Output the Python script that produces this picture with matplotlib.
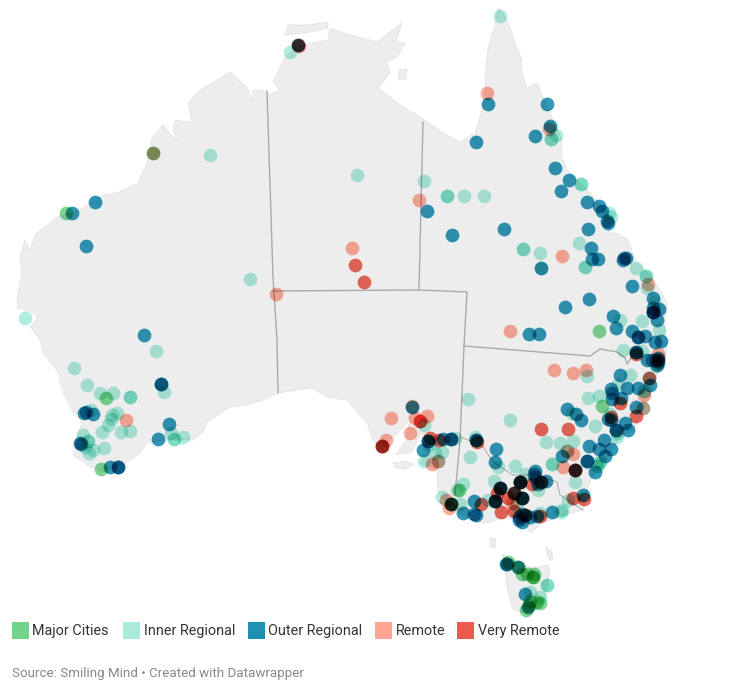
import numpy as np
import matplotlib
matplotlib.use('Agg')
import matplotlib.pyplot as plt
from matplotlib.patches import Polygon, Rectangle

plt.rcParams['font.family'] = ['Roboto', 'DejaVu Sans']

# all map data is in the map's projected units (0-750 across, 0-699 down)
mainland = [(40,340),(43,353),(58,372),(62,390),(73,412),(82,422),(77,437),(73,455),(90,467),(103,472),
            (123,465),(140,453),(147,443),(167,440),(187,440),(193,440),(203,432),(207,422),(230,407),(247,405),
            (263,400),(278,393),(297,390),(312,388),(327,397),(347,400),(358,413),(367,423),(373,440),(380,448),
            (390,440),(403,428),(410,417),(406,440),(396,455),(412,452),(418,438),(423,432),(422,445),(427,455),
            (420,463),(437,470),(438,492),(452,510),(477,522),(488,523),(502,518),(515,519),(527,527),(530,533),
            (543,523),(557,517),(583,510),(590,482),(595,473),(605,463),(618,440),(633,430),(640,417),(648,400),
            (655,380),(663,363),(667,353),(665,330),(667,303),(660,290),(650,275),(635,260),(632,252),(628,240),
            (617,233),(610,233),(608,213),(590,193),(567,170),(562,157),(562,140),(552,117),(543,97),(537,83),
            (527,88),(522,73),(522,60),(515,43),(510,27),(503,13),(498,8),(495,23),(488,50),(485,75),(485,93),
            (482,110),(475,133),(460,142),(443,133),(420,117),(397,103),(378,88),(390,73),(387,62),(397,57),
            (405,43),(396,42),(402,23),(377,42),(370,40),(350,35),(330,28),(328,40),(313,43),(303,45),(287,55),
            (280,67),(273,82),(280,90),(270,95),(263,90),(253,90),(252,100),(247,87),(230,72),(217,80),(200,90),
            (188,103),(192,122),(175,120),(173,130),(177,142),(163,125),(152,138),(147,163),(138,183),(117,193),
            (103,195),(80,210),(57,217),(35,235),(30,250),(25,240),(20,257),(22,273),(18,293),(17,308),(27,310),
            (38,317),(30,327)]
tasmania = [(503,555),(505,568),(507,588),(513,610),(528,613),(538,608),(545,598),(550,570),(548,565),
            (533,568),(520,563)]
tiwi = [(285,35),(288,25),(307,25),(328,22),(328,28),(320,30),(305,33)]
kangaroo = [(393,463),(403,461),(414,464),(405,469),(395,468)]
king_island = [(490,538),(496,538),(495,548),(490,547)]
flinders = [(546,547),(552,552),(553,560),(549,560),(547,553)]
groote = [(399,70),(407,69),(406,79),(398,79)]
islands = [tasmania, tiwi, kangaroo, king_island, flinders, groote]

borders = [
    [(267,91),(273,277),(277,340),(278,393)],
    [(273,291),(419,290),(467,292),(464,346),(460,440),(455,495)],
    [(423,122),(419,290)],
    [(464,346),(590,356),(600,349),(617,352),(625,358),(627,364),(633,355)],
]
vic_border = [(460,437),(482,445),(493,462),(513,475),(537,475),(557,482),(560,495),(583,510)]

major_cities = [(66,213),(153,153),(106,398),(101,469),(599,331),(602,406),(459,490),(451,504),
                (508,562),(518,567),(527,574),(522,574),(533,577),(533,577),(534,574),
                (537,602),(540,603),(530,601),(526,610),(529,605)]
inner_regional = [(25,318),(210,155),(250,279),(290,52),(357,175),(424,181),(464,196),(484,196),(447,196),(447,196),
                  (500,16),(556,135),(551,139),(551,139),(581,184),(581,184),(609,213),(611,217),(579,243),(540,253),
                  (523,249),(523,249),(585,267),(585,267),(541,268),(636,268),(646,276),(646,276),(647,288),(654,302),
                  (620,320),(642,321),(659,330),(623,350),(642,351),(658,364),(656,366),(587,376),(630,375),(649,378),
                  (618,384),(644,391),(644,391),(588,398),(599,396),(572,413),(595,426),(468,399),(510,420),(643,408),
                  (610,414),(617,433),(617,437),(600,462),(600,462),(597,466),(597,466),(573,441),(560,443),(546,442),
                  (567,451),(552,464),(552,464),(575,482),(568,500),(562,510),(424,425),(382,446),(455,438),(435,453),
                  (442,452),(424,461),(438,461),(475,437),(470,457),(498,467),(515,466),(525,474),(494,481),(538,490),
                  (516,505),(520,482),(540,513),(561,512),(442,497),(460,504),(463,484),(457,490),(488,500),(430,444),
                  (547,585),(547,585),(530,592),(540,597),(74,368),(87,385),(100,393),(113,393),(130,397),(130,397),
                  (156,351),(164,392),(91,410),(117,413),(112,415),(111,419),(108,425),(102,432),(121,432),(130,431),
                  (83,435),(88,441),(88,441),(85,447),(93,450),(89,453),(104,448),(171,433),(174,439),(174,439),(183,437)]
outer_regional = [(72,213),(95,202),(86,246),(144,335),(298,45),(427,211),(452,235),(488,104),(476,142),(504,229),
                  (547,104),(550,126),(535,136),(555,168),(569,180),(561,191),(587,202),(599,206),(602,211),(607,221),
                  (608,223),(588,229),(591,248),(592,259),(598,259),(541,268),(623,260),(624,258),(626,258),(632,286),
                  (653,298),(653,308),(659,309),(653,312),(653,312),(653,312),(657,320),(589,299),(565,307),(613,316),
                  (616,328),(632,331),(638,337),(638,337),(645,336),(655,342),(661,341),(529,334),(539,334),(636,352),
                  (636,352),(647,360),(652,360),(656,360),(658,358),(658,362),(657,365),(620,375),(611,389),(612,393),
                  (612,399),(621,398),(627,388),(638,388),(650,385),(567,409),(576,414),(581,420),(636,407),(608,419),
                  (611,420),(616,430),(616,430),(625,423),(628,430),(604,440),(599,449),(611,449),(605,456),(595,472),
                  (589,446),(587,461),(587,461),(562,456),(575,470),(583,495),(412,407),(423,450),(428,441),(428,441),
                  (443,439),(451,439),(451,439),(476,440),(476,440),(496,449),(495,462),(535,471),(534,474),(535,477),
                  (538,484),(541,482),(546,481),(520,482),(520,482),(500,488),(500,488),(495,501),(495,501),(514,493),
                  (522,498),(522,498),(519,517),(522,514),(522,522),(519,520),(525,515),(530,517),(537,516),(552,512),
                  (451,504),(463,513),(474,514),(474,501),(476,515),(506,564),(507,564),(518,567),(525,594),(528,607),
                  (84,413),(86,412),(93,414),(80,443),(81,444),(110,467),(118,467),(118,467),(161,384),(161,384),
                  (169,424),(158,439)]
remote = [(153,153),(276,294),(299,46),(352,248),(419,200),(487,93),(549,129),(562,256),(648,284),(510,331),
          (658,354),(554,370),(573,373),(586,370),(644,395),(643,408),(391,418),(412,406),(427,416),(415,418),
          (420,421),(410,433),(386,440),(432,464),(438,461),(126,420),(567,451),(573,454),(563,467),(520,482),
          (514,493),(512,503),(446,500),(449,508)]
very_remote = [(298,45),(355,265),(364,282),(649,378),(636,354),(620,403),(541,429),(568,429),(636,416),(611,417),
               (382,446),(382,446),(420,421),(430,438),(439,440),(477,442),(575,470),(575,470),(584,499),(573,498),
               (520,482),(532,484),(541,482),(500,488),(497,493),(495,501),(514,493),(522,498),(508,498),(501,512),
               (514,511),(525,515),(540,516),(481,504),(451,504),(658,360)]

series = [('Major Cities', major_cities, '#74d38a'),
          ('Inner Regional', inner_regional, '#a9ebdc'),
          ('Outer Regional', outer_regional, '#1f8fb2'),
          ('Remote', remote, '#ffa593'),
          ('Very Remote', very_remote, '#ea5a4e')]
legend_x = [12, 123, 248, 375, 457]


def multiply_blend(coll):
    # datawrapper stacks its symbols with multiply, agg only does normal "over"
    orig_draw = coll.draw
    pts = np.array(coll.get_offsets())

    def draw(renderer):
        for p in pts:
            coll.set_offsets([p])
            under = np.array(renderer.buffer_rgba(), dtype=float) / 255
            renderer.start_filter()
            orig_draw(renderer)
            top = np.array(renderer.buffer_rgba(), dtype=float) / 255
            renderer.stop_filter(lambda im, dpi: (im * 0, 0, 0))
            a = top[..., 3:]
            out = under.copy()
            out[..., :3] = under[..., :3] * (1 - a + a * top[..., :3])
            gc = renderer.new_gc()
            renderer.draw_image(gc, 0, 0, (out * 255 + 0.5).astype(np.uint8)[::-1])
            gc.restore()
        coll.set_offsets(pts)
    coll.draw = draw


fig = plt.figure(figsize=(7.5, 6.99), dpi=100)
ax = fig.add_axes([0, 0, 1, 1])
ax.set_xlim(0, 750)
ax.set_ylim(699, 0)
ax.axis('off')

for shape in [mainland] + islands:
    ax.add_patch(Polygon(shape, closed=True, facecolor='#ededed', edgecolor='#d4d4d4',
                         linewidth=0.5, linestyle=(0, (2, 1.5)), zorder=1))
for line in borders:
    ax.plot(*zip(*line), color='#aaaaaa', linewidth=1, zorder=2)
ax.plot(*zip(*vic_border), color='#aaaaaa', linewidth=0.7, zorder=2)

for (name, pts, color), lx in zip(series, legend_x):
    xs, ys = zip(*pts)
    dots = ax.scatter(xs, ys, s=98, color=color, alpha=0.92, linewidths=0, zorder=3)
    multiply_blend(dots)
    ax.add_patch(Rectangle((lx, 622), 17, 17, facecolor=color, edgecolor='none', zorder=3))
    ax.text(lx + 20.5, 631, name, fontsize=10.35, color='#333333', va='center', ha='left')

ax.text(12, 673, 'Source: Smiling Mind • Created with Datawrapper', fontsize=9.6, color='#888888',
        va='center', ha='left')

fig.savefig('out.png', dpi=100)
